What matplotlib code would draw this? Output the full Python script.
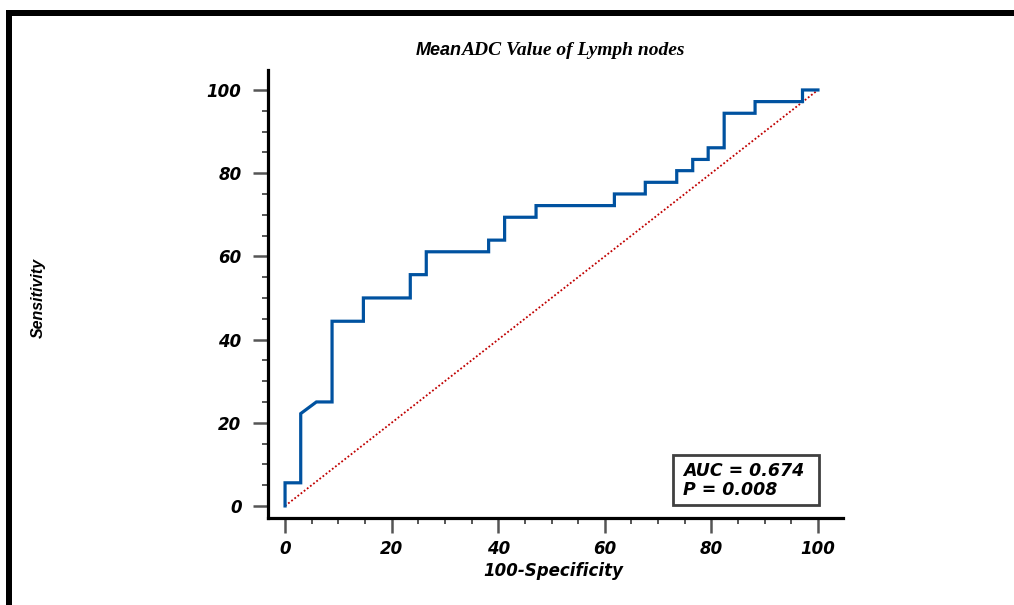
import matplotlib
matplotlib.use("Agg")
import matplotlib.pyplot as plt
from matplotlib.patches import Rectangle
from matplotlib.ticker import MultipleLocator

# ---- data (percent) ----
fpr = [0, 0, 2.94, 2.94, 5.88, 8.82, 8.82, 14.7, 14.7, 23.5, 23.5, 26.5, 26.5,
       38.2, 38.2, 41.2, 41.2, 47.1, 47.1, 61.8, 61.8, 67.6, 67.6, 73.5, 73.5,
       76.5, 76.5, 79.4, 79.4, 82.4, 82.4, 88.2, 88.2, 97.1, 97.1, 100]
tpr = [0, 5.56, 5.56, 22.2, 25.0, 25.0, 44.4, 44.4, 50.0, 50.0, 55.6, 55.6, 61.1,
       61.1, 63.9, 63.9, 69.4, 69.4, 72.2, 72.2, 75.0, 75.0, 77.8, 77.8, 80.6,
       80.6, 83.3, 83.3, 86.1, 86.1, 94.4, 94.4, 97.2, 97.2, 100, 100]
ref_x = [0, 100]
ref_y = [0, 100]
title_a = "Mean"
title_b = "ADC Value of Lymph nodes"
xlabel = "100-Specificity"
ylabel = "Sensitivity"
auc_lines = ["AUC = 0.674", "P = 0.008"]
ticks = [0, 20, 40, 60, 80, 100]

W, H = 1014, 605
fig = plt.figure(figsize=(W / 100, H / 100), dpi=100)

def fx(px):
    return px / W

def fy(py):
    return 1 - py / H

ax = fig.add_axes([fx(268), fy(518), fx(843) - fx(268), fy(70) - fy(518)])
ax.set_xlim(-3.2, 104.7)
ax.set_ylim(-2.9, 104.8)

ax.plot(ref_x, ref_y, color="#c00000", lw=1.3, ls=(0, (1, 1.2)), zorder=2)
ax.plot(fpr, tpr, color="#0052a0", lw=2.3, solid_joinstyle="miter", zorder=3)

for s in ["top", "right"]:
    ax.spines[s].set_visible(False)
for s in ["left", "bottom"]:
    ax.spines[s].set_linewidth(2.3)
    ax.spines[s].set_color("black")

ax.set_xticks(ticks)
ax.set_yticks(ticks)
ax.xaxis.set_minor_locator(MultipleLocator(5))
ax.yaxis.set_minor_locator(MultipleLocator(5))
ax.tick_params(which="major", length=11, width=1.8, color="#555555", pad=5)
ax.tick_params(which="minor", length=4.5, width=1.4, color="#555555")
tickfont = dict(family="DejaVu Sans", weight="bold", style="oblique", size=12)
ax.set_xticklabels([str(t) for t in ticks], fontdict=tickfont)
ax.set_yticklabels([str(t) for t in ticks], fontdict=tickfont)
ax.tick_params(axis="y", pad=8)

fig.text(fx(553), fy(571), xlabel, ha="center", va="center", **tickfont)
fig.text(fx(38), fy(298), ylabel, ha="center", va="center", rotation=90,
         family="Liberation Sans", weight="bold", style="italic", size=11.5)

# AUC box
fig.add_artist(Rectangle((fx(673), fy(505)), fx(819) - fx(673), fy(455) - fy(505),
                         transform=fig.transFigure, fill=False,
                         edgecolor="#404040", lw=2.0))
fig.text(fx(683), fy(476), auc_lines[0], ha="left", va="baseline",
         family="DejaVu Sans", weight="bold", style="oblique", size=12.5)
fig.text(fx(683), fy(495), auc_lines[1], ha="left", va="baseline",
         family="DejaVu Sans", weight="bold", style="oblique", size=12.5)

# title (two fonts)
fig.canvas.draw()
r = fig.canvas.get_renderer()
ta = fig.text(0, fy(55), title_a, ha="left", va="baseline",
              family="Liberation Sans", weight="bold", style="italic", size=13)
tb = fig.text(0, fy(55), title_b, ha="left", va="baseline",
              family="Liberation Serif", weight="bold", style="italic", size=14)
wa = ta.get_window_extent(r).width
wb = tb.get_window_extent(r).width
x0 = 550 - (wa + wb) / 2
ta.set_x(fx(x0))
tb.set_x(fx(x0 + wa))

# outer black border (top and left)
fig.add_artist(Rectangle((fx(6), fy(16)), 1 - fx(6), fy(10) - fy(16),
                         transform=fig.transFigure, color="black", lw=0))
fig.add_artist(Rectangle((fx(6), 0), fx(12) - fx(6), fy(10),
                         transform=fig.transFigure, color="black", lw=0))

fig.savefig("out.png", dpi=100)
